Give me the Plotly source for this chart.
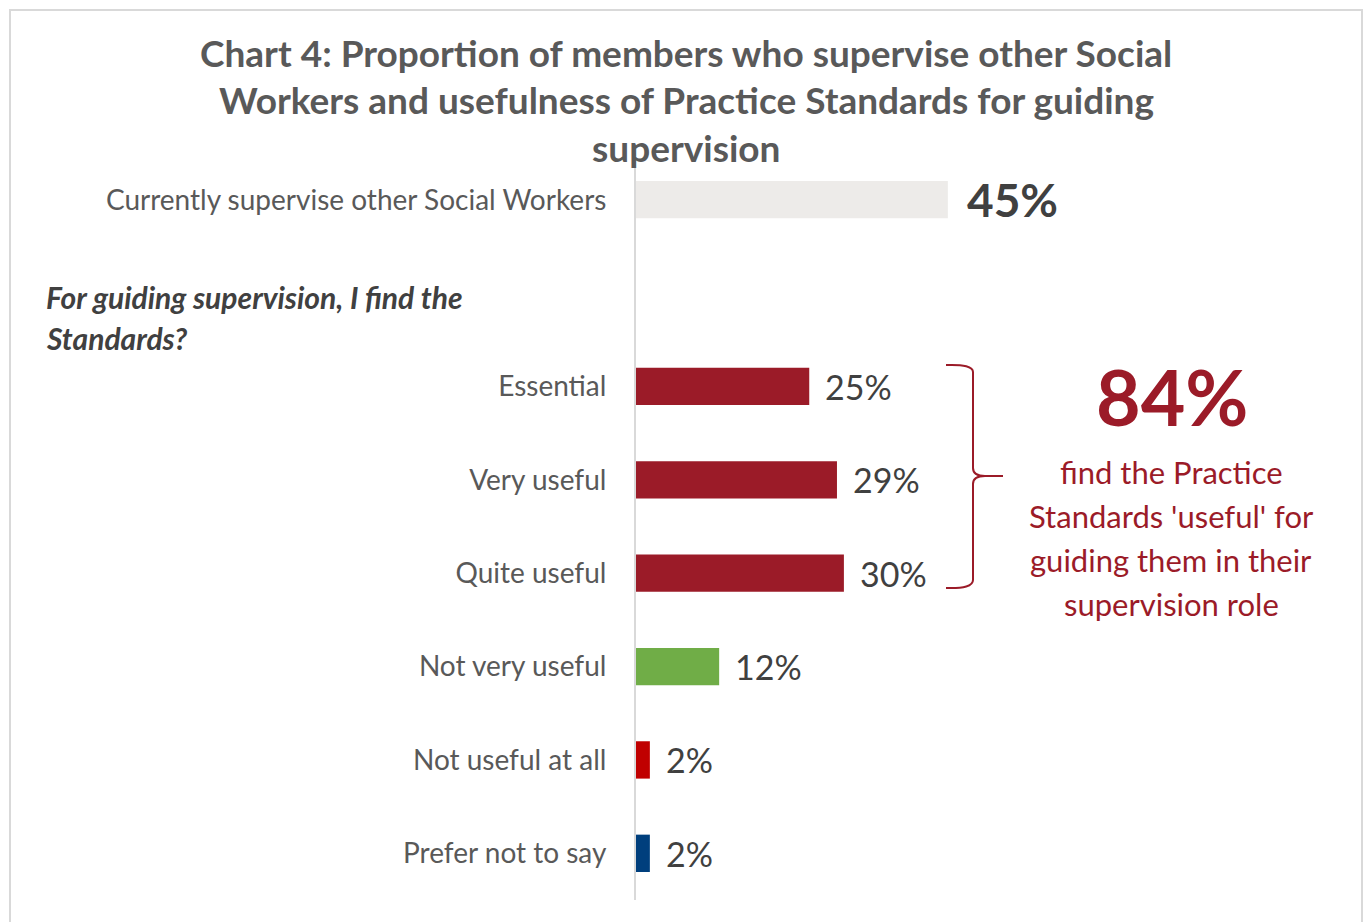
import plotly.graph_objects as go

W, H = 1367, 922

categories = ["Currently supervise other Social Workers", " ", "Essential", "Very useful",
              "Quite useful", "Not very useful", "Not useful at all", "Prefer not to say"]
values = [45, None, 25, 29, 30, 12, 2, 2]
value_labels = ["45%", "", "25%", "29%", "30%", "12%", "2%", "2%"]
bar_colors = ["#EDEBE9", "#FFFFFF", "#9B1B28", "#9B1B28", "#9B1B28", "#70AD47", "#C00000", "#003F7D"]

title_lines = ["Chart 4: Proportion of members who supervise other Social",
               "Workers and usefulness of Practice Standards for guiding",
               "supervision"]
question_lines = ["For guiding supervision, I find the", "Standards?"]
total_useful = "84%"
callout_lines = ["find the Practice", "Standards 'useful' for", "guiding them in their", "supervision role"]

FONT = "Lato"
DARKRED = "#9B1B28"

def px(x):
    return x / W

def py(y):
    return 1 - y / H

PLOT_L, PLOT_T, PLOT_B = 636, 153, 900
PX_PER_PCT = 6.93
XMAX = (W - PLOT_L) / PX_PER_PCT

fig = go.Figure()
fig.add_trace(go.Bar(
    y=categories, x=values, orientation="h",
    marker=dict(color=bar_colors, line=dict(width=0)),
    width=0.4, hoverinfo="skip",
))

annotations = []
for cat, v, lab in zip(categories, values, value_labels):
    if v is None:
        continue
    big = cat == categories[0]
    annotations.append(dict(
        x=v, y=cat, xref="x", yref="y", text=lab, showarrow=False,
        xanchor="left", yanchor="middle", xshift=17 if big else 14,
        font=dict(family=FONT, size=46 if big else 34, color="#404040",
                  weight="bold" if big else "normal"),
    ))

for i, t in enumerate(title_lines):
    annotations.append(dict(
        x=px(686), y=py(53 + 47 * i), xref="paper", yref="paper", text=t,
        showarrow=False, xanchor="center", yanchor="middle",
        font=dict(family=FONT, size=37, color="#595959", weight="bold"),
    ))

for i, t in enumerate(question_lines):
    annotations.append(dict(
        x=px(44), y=py(297 + 41 * i), xref="paper", yref="paper", text="<i>" + t + "</i>",
        showarrow=False, xanchor="left", yanchor="middle",
        font=dict(family=FONT, size=30, color="#404040", weight="bold"),
    ))

annotations.append(dict(
    x=px(1172), y=py(396), xref="paper", yref="paper", text=total_useful,
    showarrow=False, xanchor="center", yanchor="middle",
    font=dict(family=FONT, size=77, color=DARKRED, weight="bold"),
))
for i, t in enumerate(callout_lines):
    annotations.append(dict(
        x=px(1171), y=py(472 + 44 * i), xref="paper", yref="paper", text=t,
        showarrow=False, xanchor="center", yanchor="middle",
        font=dict(family=FONT, size=31, color=DARKRED),
    ))

# bracket path in paper coordinates
def P(x, y):
    return f"{px(x):.5f},{py(y):.5f}"

bracket = ("M " + P(946, 365) + " Q " + P(973, 364) + " " + P(973, 372) +
           " L " + P(973, 468) + " Q " + P(973, 476) + " " + P(985, 476) +
           " L " + P(1003, 476) + " L " + P(985, 476) +
           " Q " + P(973, 476) + " " + P(973, 484) +
           " L " + P(973, 580) + " Q " + P(973, 589) + " " + P(946, 588))

shapes = [
    dict(type="path", path=bracket, xref="paper", yref="paper",
         line=dict(color=DARKRED, width=2)),
    dict(type="rect", xref="paper", yref="paper", x0=px(10), x1=px(1362), y0=py(960), y1=py(10),
         line=dict(color="#D9D9D9", width=2), fillcolor="rgba(0,0,0,0)", layer="below"),
]

fig.update_layout(
    width=W, height=H, margin=dict(l=0, r=0, t=0, b=0),
    paper_bgcolor="white", plot_bgcolor="white",
    showlegend=False, annotations=annotations, shapes=shapes,
    xaxis=dict(domain=[px(PLOT_L), 1], range=[0, XMAX], visible=False, fixedrange=True),
    yaxis=dict(domain=[py(PLOT_B), py(PLOT_T)], type="category", categoryorder="array",
               categoryarray=categories, autorange="reversed",
               showline=True, linecolor="#D9D9D9", linewidth=2, showgrid=False,
               ticks="", ticklabelstandoff=22, zeroline=False, automargin=False,
               tickfont=dict(family=FONT, size=28, color="#595959")),
    bargap=0.6,
)

fig.write_html("out.html")
